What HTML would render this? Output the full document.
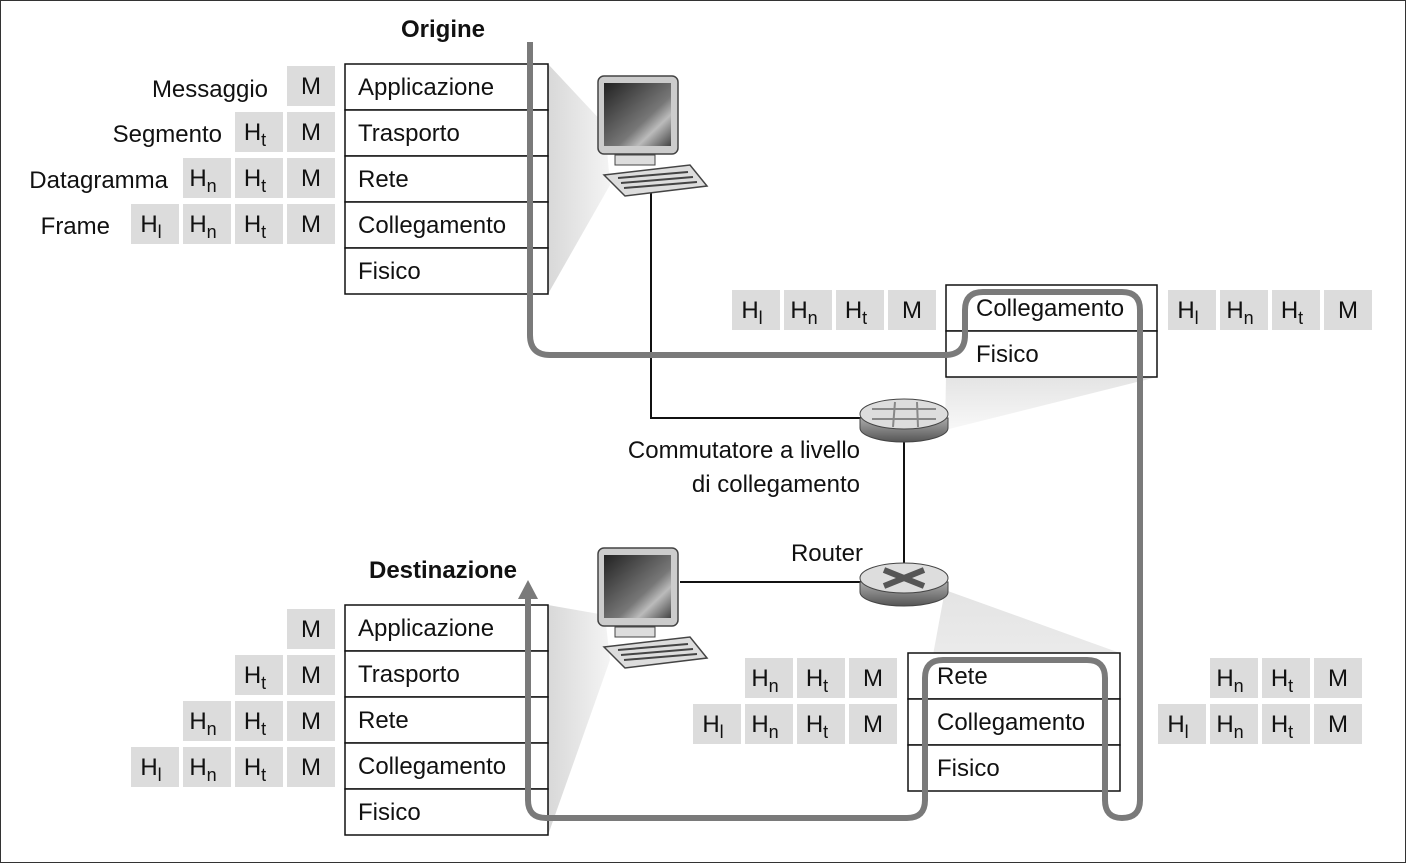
<!DOCTYPE html>
<html><head><meta charset="utf-8"><style>
html,body{margin:0;padding:0;background:#fff}
svg{display:block;font-family:"Liberation Sans",sans-serif}
.t{font-size:24px;fill:#111}
.c{font-size:24px;fill:#111;text-anchor:middle}
.s{font-size:18px}
</style></head><body>
<svg id="svg" width="1406" height="863" viewBox="0 0 1406 863">
<defs>
<linearGradient id="wedge" x1="0" x2="1" y1="0" y2="0"><stop offset="0" stop-color="#d8d8d8"/><stop offset="1" stop-color="#f4f4f4"/></linearGradient>
<linearGradient id="wedge2" x1="0" x2="0" y1="0" y2="1"><stop offset="0" stop-color="#e4e4e4"/><stop offset="1" stop-color="#f8f8f8"/></linearGradient>
<linearGradient id="scr" x1="0" y1="0" x2="1" y2="1"><stop offset="0" stop-color="#222"/><stop offset="0.6" stop-color="#777"/><stop offset="0.75" stop-color="#bbb"/><stop offset="1" stop-color="#444"/></linearGradient>
<linearGradient id="cyl" x1="0" x2="0" y1="0" y2="1"><stop offset="0" stop-color="#aaa"/><stop offset="1" stop-color="#555"/></linearGradient>
</defs>
<rect x="0.5" y="0.5" width="1405" height="862" fill="#fff" stroke="#333"/>
<g id="wedges">
<polygon points="548,64 605,125 610,185 548,294" fill="url(#wedge)"/>
<polygon points="548,605 605,615 610,660 548,835" fill="url(#wedge)"/>
<polygon points="946,377 1157,377 945,430" fill="url(#wedge2)"/>
<polygon points="945,590 1120,653 908,653 908,790" fill="url(#wedge2)"/>
</g>
<g stroke="#111" stroke-width="2" fill="none">
<polyline points="651,192 651,418 862,418"/>
<line x1="904" y1="440" x2="904" y2="572"/>
<line x1="680" y1="582" x2="862" y2="582"/>
</g>
<g id="stacks"></g>
<g id="cells"></g>
<path d="M530,42 V335 Q530,355 550,355 H945 Q965,355 965,335 V310 Q965,292 983,292 H1122 Q1140,292 1140,310 V800 Q1140,818 1122,818 H1122 Q1105,818 1105,800 V678 Q1105,660 1087,660 H943 Q925,660 925,678 V800 Q925,818 907,818 H546 Q528,818 528,800 V598" fill="none" stroke="#7a7a7a" stroke-width="6"/>
<polygon points="518,599 538,599 528,580" fill="#7a7a7a"/>
<g id="pc1">
<rect x="598" y="76" width="80" height="78" rx="6" fill="#ccc" stroke="#444" stroke-width="1.5"/>
<rect x="604" y="83" width="67" height="63" fill="url(#scr)"/>
<rect x="615" y="155" width="40" height="10" fill="#ddd" stroke="#444"/>
<polygon points="604,175 690,165 707,186 625,196" fill="#ddd" stroke="#444" stroke-width="1.5"/>
<line x1="618" y1="178" x2="688" y2="172" stroke="#444" stroke-width="2"/><line x1="621" y1="183" x2="693" y2="177" stroke="#444" stroke-width="2"/><line x1="624" y1="188" x2="697" y2="182" stroke="#444" stroke-width="2"/>
</g>
<use href="#pc1" y="472"/>
<g>
<path d="M860,418 v10 a44,14 0 0 0 88,0 v-10 z" fill="url(#cyl)" stroke="#444"/>
<ellipse cx="904" cy="414" rx="44" ry="15" fill="#ddd" stroke="#444"/>
<g stroke="#888" stroke-width="2"><line x1="872" y1="409" x2="936" y2="409"/><line x1="872" y1="419" x2="936" y2="419"/><line x1="895" y1="402" x2="893" y2="427"/><line x1="917" y1="402" x2="918" y2="427"/></g>
</g>
<g>
<path d="M860,582 v10 a44,14 0 0 0 88,0 v-10 z" fill="url(#cyl)" stroke="#444"/>
<ellipse cx="904" cy="578" rx="44" ry="15" fill="#ddd" stroke="#444"/>
<g stroke="#555" stroke-width="6"><line x1="884" y1="570" x2="924" y2="586"/><line x1="924" y1="570" x2="884" y2="586"/></g>
</g>
<text x="443" y="37" text-anchor="middle" font-weight="bold" font-size="24" fill="#111">Origine</text>
<text x="443" y="578" text-anchor="middle" font-weight="bold" font-size="24" fill="#111">Destinazione</text>
<text class="t" x="860" y="458" text-anchor="end">Commutatore a livello</text>
<text class="t" x="860" y="492" text-anchor="end">di collegamento</text>
<text class="t" x="863" y="561" text-anchor="end">Router</text>
<text class="t" x="268" y="97" text-anchor="end">Messaggio</text>
<text class="t" x="222" y="142" text-anchor="end">Segmento</text>
<text class="t" x="168" y="188" text-anchor="end">Datagramma</text>
<text class="t" x="110" y="234" text-anchor="end">Frame</text>
</svg>
<script>
const NS="http://www.w3.org/2000/svg";
const stacks=document.getElementById('stacks'), cells=document.getElementById('cells');
function mk(t,a,p){const e=document.createElementNS(NS,t);for(const k in a)e.setAttribute(k,a[k]);p.appendChild(e);return e;}
function stack(x,y,w,h,names,tx,nm){
  const g=mk('g',{},stacks);
  
  
  names.forEach((n,i)=>{
    const r=mk('rect',{x:x,y:y+i*h,width:w,height:h,fill:'#fff',stroke:'#111','stroke-width':1.5},g);
    
    
    const t=mk('text',{x:tx,y:y+i*h+h/2+8,class:'t'},g);
    t.textContent=n;
    
    
  });
}
stack(345,64,203,46,['Applicazione','Trasporto','Rete','Collegamento','Fisico'],358,'origin-stack');
stack(345,605,203,46,['Applicazione','Trasporto','Rete','Collegamento','Fisico'],358,'destination-stack');
stack(946,285,211,46,['Collegamento','Fisico'],976,'switch-stack');
stack(908,653,212,46,['Rete','Collegamento','Fisico'],937,'router-stack');
function row(xRight,y,labels){
  labels.slice().reverse().forEach((l,i)=>{
    const x=xRight-48-i*52;
    const r=mk('rect',{x:x,y:y,width:48,height:40,fill:'#dcdcdc'},cells);
    
    
    const t=mk('text',{x:x+24-(l.length>1?4:0),y:y+28,class:'c'},cells);
    
    
    t.appendChild(document.createTextNode(l[0]));
    if(l.length>1){const s=mk('tspan',{class:'s',dy:6},t);s.textContent=l[1];}
  });
}
const M=['M'],T=['H','t'],N=['H','n'],L=['H','l'];
row(335,66,[M]);row(335,112,[T,M]);row(335,158,[N,T,M]);row(335,204,[L,N,T,M]);
row(335,609,[M]);row(335,655,[T,M]);row(335,701,[N,T,M]);row(335,747,[L,N,T,M]);
row(936,290,[L,N,T,M]);row(1372,290,[L,N,T,M]);
row(897,658,[N,T,M]);row(897,704,[L,N,T,M]);
row(1362,658,[N,T,M]);row(1362,704,[L,N,T,M]);
</script>
</body></html>
